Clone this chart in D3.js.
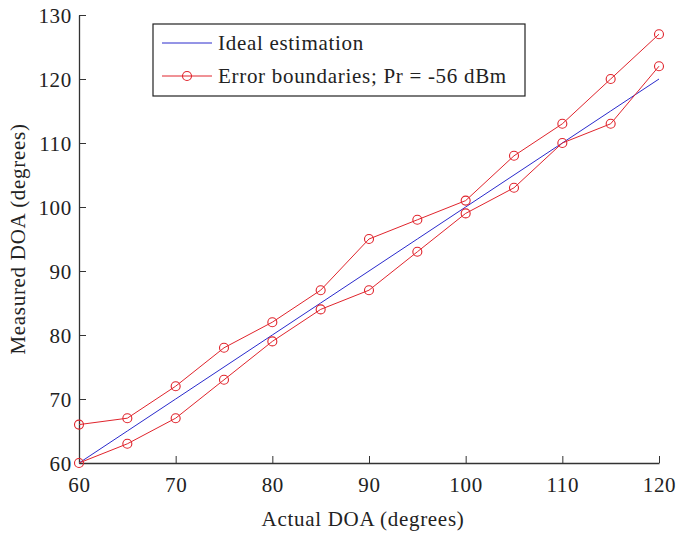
<!DOCTYPE html>
<html>
<head>
<meta charset="utf-8">
<script src="https://cdn.jsdelivr.net/npm/d3@7"></script>
<style>
  body { margin: 0; background: #fff; }
  text { font-family: "Liberation Serif", "Times New Roman", serif; fill: #222; letter-spacing: 0.7px; }
</style>
</head>
<body>
<div id="chart"></div>
<script>
const actual = [60, 65, 70, 75, 80, 85, 90, 95, 100, 105, 110, 115, 120];
const ideal = [60, 65, 70, 75, 80, 85, 90, 95, 100, 105, 110, 115, 120];
const upperBound = [66, 67, 72, 78, 82, 87, 95, 98, 101, 108, 113, 120, 127];
const lowerBound = [60, 63, 67, 73, 79, 84, 87, 93, 99, 103, 110, 113, 122];
const xTicks = [60, 70, 80, 90, 100, 110, 120];
const yTicks = [60, 70, 80, 90, 100, 110, 120, 130];
const legendLabels = ['Ideal estimation', 'Error boundaries; Pr = -56 dBm'];

var width = 679, height = 534;
var margin = {top: 15, right: 20, bottom: 71, left: 79};

var svg = d3.select('#chart').append('svg')
  .attr('width', width)
  .attr('height', height);

var x = d3.scaleLinear().domain([60, 120]).range([margin.left, width - margin.right]);
var y = d3.scaleLinear().domain([60, 130]).range([height - margin.bottom, margin.top]);

// axes (ticks point inward, like matlab)
var xAxis = svg.append('g')
  .attr('transform', 'translate(0,' + y(60) + ')')
  .call(d3.axisBottom(x).tickValues(xTicks).tickSizeInner(-7).tickSizeOuter(0).tickPadding(14));
var yAxis = svg.append('g')
  .attr('transform', 'translate(' + x(60) + ',0)')
  .call(d3.axisLeft(y).tickValues(yTicks).tickSizeInner(-7).tickSizeOuter(0).tickPadding(7));

[xAxis, yAxis].forEach(function(ax) {
  ax.select('.domain').attr('stroke', '#333').attr('stroke-width', 1.3);
  ax.selectAll('.tick line').attr('stroke', '#333');
  ax.selectAll('.tick text')
    .style('font-family', '"Liberation Serif", serif')
    .style('font-size', '21px')
    .attr('fill', '#222');
});
yAxis.selectAll('.tick text').attr('dy', '0.35em');

var line = d3.line()
  .x(function(d) { return x(d[0]); })
  .y(function(d) { return y(d[1]); });

var blue = '#2a2acc', red = '#e0242c';

svg.append('path')
  .datum(d3.zip(actual, ideal))
  .attr('d', line)
  .attr('fill', 'none')
  .attr('stroke', blue)
  .attr('stroke-width', 1);

[upperBound, lowerBound].forEach(function(series) {
  var pts = d3.zip(actual, series);
  svg.append('path')
    .datum(pts)
    .attr('d', line)
    .attr('fill', 'none')
    .attr('stroke', red)
    .attr('stroke-width', 1);
  svg.selectAll(null)
    .data(pts)
    .enter()
    .append('circle')
      .attr('cx', function(d) { return x(d[0]); })
      .attr('cy', function(d) { return y(d[1]); })
      .attr('r', 4.5)
      .attr('fill', 'none')
      .attr('stroke', red)
      .attr('stroke-width', 1.1);
});

// axis titles
svg.append('text')
  .attr('x', (x(60) + x(120)) / 2 - 6)
  .attr('y', 526)
  .attr('text-anchor', 'middle')
  .style('font-size', '21px')
  .text('Actual DOA (degrees)');

svg.append('text')
  .attr('transform', 'translate(25,' + (y(60) + y(130)) / 2 + ') rotate(-90)')
  .attr('text-anchor', 'middle')
  .style('font-size', '21px')
  .text('Measured DOA (degrees)');

// legend
var legend = svg.append('g');
legend.append('rect')
  .attr('x', 153).attr('y', 24)
  .attr('width', 372).attr('height', 72)
  .attr('fill', '#fff')
  .attr('stroke', '#222')
  .attr('stroke-width', 1.2);

var rows = [43, 76];
legendLabels.forEach(function(label, i) {
  var c = i === 0 ? blue : red;
  legend.append('line')
    .attr('x1', 162).attr('x2', 212)
    .attr('y1', rows[i]).attr('y2', rows[i])
    .attr('stroke', c);
  if (i === 1) {
    legend.append('circle')
      .attr('cx', 187).attr('cy', rows[i]).attr('r', 4.5)
      .attr('fill', 'none').attr('stroke', red).attr('stroke-width', 1.1);
  }
  legend.append('text')
    .attr('x', 218).attr('y', rows[i] + 7)
    .style('font-size', '21px')
    .text(label);
});
</script>
</body>
</html>
